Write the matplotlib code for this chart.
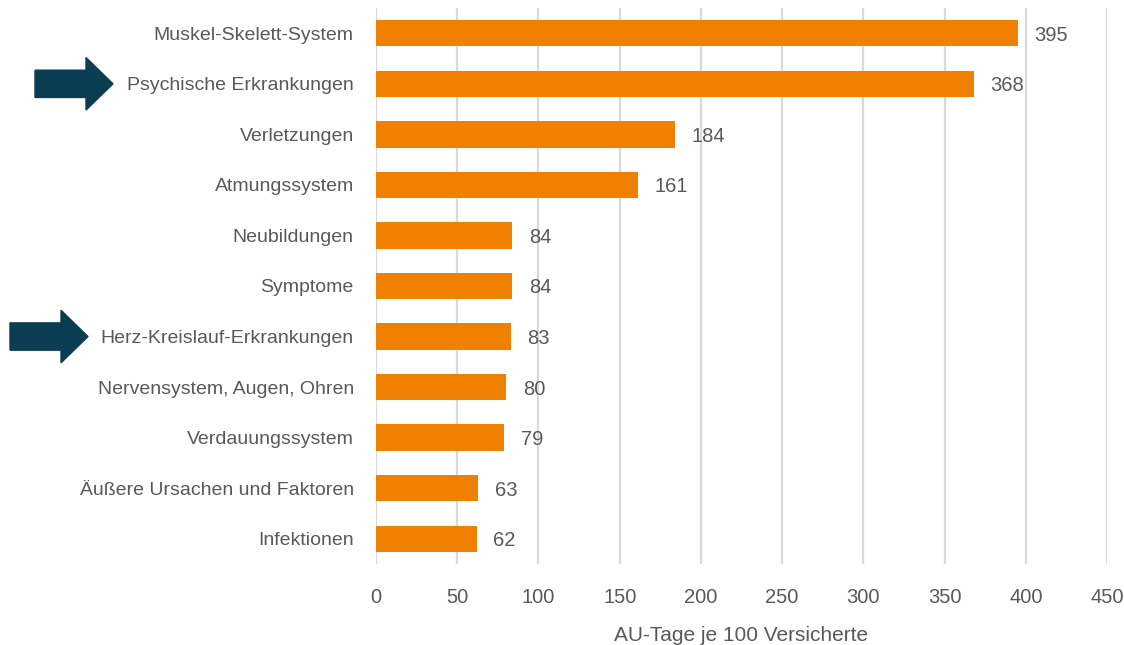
import matplotlib
matplotlib.use('Agg')
import matplotlib.pyplot as plt
from matplotlib.patches import Polygon
from matplotlib.transforms import blended_transform_factory
import numpy as np

kategorien = ['Muskel-Skelett-System', 'Psychische Erkrankungen', 'Verletzungen',
              'Atmungssystem', 'Neubildungen', 'Symptome', 'Herz-Kreislauf-Erkrankungen',
              'Nervensystem, Augen, Ohren', 'Verdauungssystem',
              'Äußere Ursachen und Faktoren', 'Infektionen']
werte = [395, 368, 184, 161, 84, 84, 83, 80, 79, 63, 62]
markiert = ['Psychische Erkrankungen', 'Herz-Kreislauf-Erkrankungen']
xticks = [0, 50, 100, 150, 200, 250, 300, 350, 400, 450]

plt.rcParams['font.family'] = ['Liberation Sans Narrow', 'Liberation Sans', 'DejaVu Sans']
grau = '#595959'
orange = '#F08000'
blau = '#0B3D52'

fig = plt.figure(figsize=(11.24, 6.45), dpi=100)
ax = fig.add_axes([0.3345, 0.1256, 0.6505, 0.862])

y = np.arange(len(kategorien))[::-1]
ax.barh(y, werte, height=0.52, color=orange, zorder=3)

for yi, w in zip(y, werte):
    ax.annotate(str(w), (w, yi), xytext=(12, 0), textcoords='offset points',
                va='center_baseline', ha='left', fontsize=14.5, color=grau)

ax.set_xlim(0, 450)
ax.set_ylim(-0.5, len(kategorien) - 0.5)
ax.set_xticks(xticks)
ax.set_yticks(y)
ax.set_yticklabels(kategorien)
for lbl in ax.get_yticklabels():
    lbl.set_verticalalignment('center_baseline')
ax.tick_params(axis='y', length=0, pad=16, labelsize=14, labelcolor=grau)
ax.tick_params(axis='x', length=0, pad=17, labelsize=14.5, labelcolor=grau)
ax.grid(axis='x', color='#D9D9D9', linewidth=1.6, zorder=0)
for s in ax.spines.values():
    s.set_visible(False)
ax.set_xlabel('AU-Tage je 100 Versicherte', fontsize=15, color=grau, labelpad=14)

# Pfeile neben den markierten Kategorien
tr = blended_transform_factory(fig.transFigure, ax.transData)
pfeil_x = {'Psychische Erkrankungen': 35, 'Herz-Kreislauf-Erkrankungen': 10}
for name in markiert:
    yi = y[kategorien.index(name)]
    x0 = pfeil_x[name] / 1124
    x1 = (pfeil_x[name] + 51) / 1124
    x2 = (pfeil_x[name] + 78) / 1124
    sh, hh = 0.27, 0.52
    pts = [(x0, yi - sh), (x1, yi - sh), (x1, yi - hh), (x2, yi),
           (x1, yi + hh), (x1, yi + sh), (x0, yi + sh)]
    ax.add_patch(Polygon(pts, closed=True, transform=tr, color=blau, clip_on=False))

fig.savefig('out.png', dpi=100)
